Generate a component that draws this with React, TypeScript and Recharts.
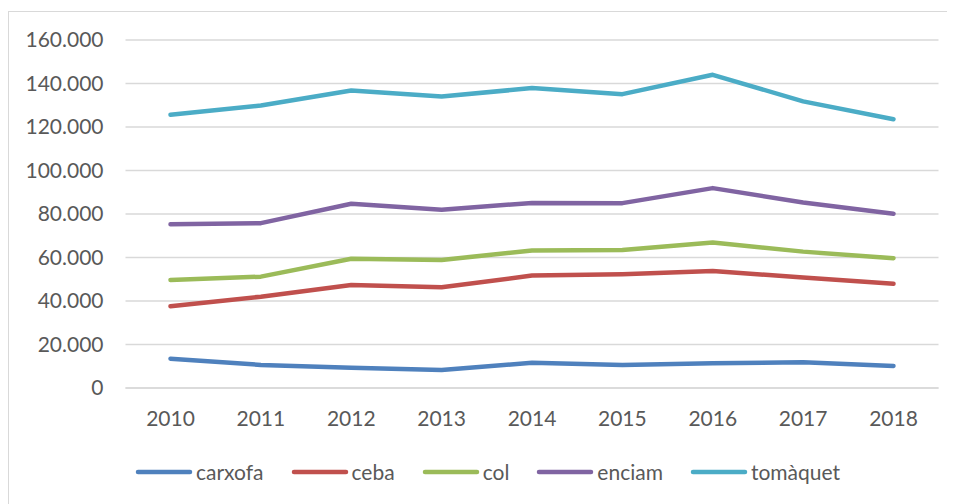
import React from "react";
import { LineChart, Line, XAxis, YAxis, CartesianGrid } from "recharts";

const years = ["2010", "2011", "2012", "2013", "2014", "2015", "2016", "2017", "2018"];
const carxofa = [13500, 10600, 9300, 8300, 11600, 10600, 11400, 11800, 10100];
const ceba = [37600, 42000, 47400, 46300, 51700, 52300, 53800, 50800, 47900];
const col = [49700, 51200, 59400, 58900, 63200, 63500, 66900, 62700, 59700];
const enciam = [75300, 75800, 84700, 81900, 85100, 85000, 91900, 85300, 80100];
const tomaquet = [125600, 129900, 136800, 134000, 137900, 135100, 144000, 131800, 123600];
const yTicks = [0, 20000, 40000, 60000, 80000, 100000, 120000, 140000, 160000];

const seriesNames = ["carxofa", "ceba", "col", "enciam", "tomàquet"];
const seriesValues = [carxofa, ceba, col, enciam, tomaquet];
const seriesColors = ["#4F81BD", "#C0504D", "#9BBB59", "#8064A2", "#4BACC6"];

const data = years.map((y, i) => {
  const row: Record<string, string | number> = { year: y };
  seriesNames.forEach((n, k) => {
    row[n] = seriesValues[k][i];
  });
  return row;
});

const fmt = (v: number) => String(v).replace(/\B(?=(\d{3})+(?!\d))/g, ".");

const FONT = "Lato, 'Open Sans', sans-serif";
const TXT = "#595959";

export default function App() {
  return (
    <div style={{ position: "relative", width: 947, height: 496, overflow: "hidden", fontFamily: FONT }}>
      <div
        style={{
          position: "absolute",
          left: 0,
          top: 3,
          width: 980,
          height: 600,
          border: "1px solid #d9d9d9",
          boxSizing: "border-box",
        }}
      />
      <div style={{ position: "absolute", left: 0, top: 0 }}>
        <LineChart
          width={947}
          height={496}
          data={data}
          margin={{ top: 32, right: 16.5, bottom: 56, left: 0 }}
        >
          <CartesianGrid vertical={false} stroke="#d9d9d9" strokeWidth={1.3} />
          <XAxis
            dataKey="year"
            axisLine={{ stroke: "#d9d9d9", strokeWidth: 1.3 }}
            tickLine={false}
            tickSize={0}
            tickMargin={23}
            height={60}
            padding={{ left: 45, right: 45 }}
            tick={{ fill: TXT, fontSize: 21, fontFamily: FONT }}
            interval={0}
          />
          <YAxis
            width={117.5}
            domain={[0, 160000]}
            ticks={yTicks}
            axisLine={false}
            tickLine={false}
            tickSize={0}
            tickMargin={22}
            tickFormatter={fmt}
            tick={{ fill: TXT, fontSize: 21, fontFamily: FONT }}
            interval={0}
          />
          {seriesNames.map((n, k) => (
            <Line
              key={n}
              dataKey={n}
              type="linear"
              stroke={seriesColors[k]}
              strokeWidth={4.5}
              strokeLinecap="round"
              strokeLinejoin="round"
              dot={false}
              activeDot={false}
              isAnimationActive={false}
            />
          ))}
        </LineChart>
      </div>
      <div
        style={{
          position: "absolute",
          left: 127,
          top: 451,
          display: "flex",
          alignItems: "center",
          fontSize: 21,
          color: TXT,
          whiteSpace: "nowrap",
        }}
      >
        {seriesNames.map((n, k) => (
          <div key={n} style={{ display: "flex", alignItems: "center", marginRight: 27 }}>
            <svg width={58} height={10} style={{ marginRight: 3 }}>
              <line x1={3} y1={5} x2={55} y2={5} stroke={seriesColors[k]} strokeWidth={4.5} strokeLinecap="round" />
            </svg>
            <span>{n}</span>
          </div>
        ))}
      </div>
    </div>
  );
}
